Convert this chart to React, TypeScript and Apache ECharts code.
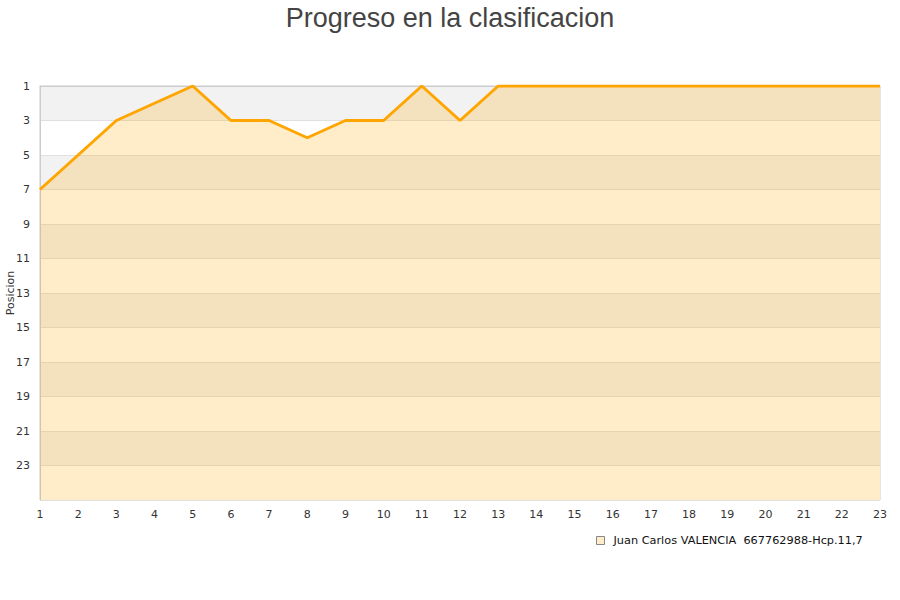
import { useEffect, useRef } from "react";
import * as echarts from "echarts";

// Jornadas 1..23 and the position held after each one
const rounds = Array.from({ length: 23 }, (_, i) => String(i + 1));
const positions = [7, 5, 3, 2, 1, 3, 3, 4, 3, 3, 1, 3, 1, 1, 1, 1, 1, 1, 1, 1, 1, 1, 1];
const playerName = "Juan Carlos VALENCIA  667762988-Hcp.11,7";

// positions start at 1, the axis counts from 0 so the ticks land on 1, 3, 5...
const FIRST = 1;
const LAST = 25;

export default function App() {
  const chartRef = useRef<HTMLDivElement>(null);

  useEffect(() => {
    if (!chartRef.current) return;
    const chart = echarts.init(chartRef.current, null, { renderer: "svg" });

    const font = "DejaVu Sans";

    const option: echarts.EChartsOption = {
      animation: false,
      textStyle: { fontFamily: font },
      title: {
        text: "Progreso en la clasificacion",
        left: "center",
        top: -1,
        textStyle: {
          fontFamily: "Liberation Sans",
          fontSize: 27,
          fontWeight: "normal",
          color: "#444",
        },
      },
      grid: {
        left: 40,
        right: 20,
        top: 86,
        bottom: 100,
        outerBoundsMode: "none",
        show: true,
        borderColor: "#ccc",
        borderWidth: 1,
        backgroundColor: "transparent",
      } as any,
      legend: {
        left: 591,
        top: 530,
        icon: "rect",
        itemWidth: 8,
        itemHeight: 8,
        itemGap: 6,
        textStyle: { fontFamily: font, fontSize: 11.3, color: "#111", padding: [0, 0, 0, 4] },
        data: [
          {
            name: playerName,
            itemStyle: { color: "#ffecc9", borderColor: "#888", borderWidth: 1 },
          },
        ],
      },
      xAxis: {
        type: "category",
        data: rounds,
        boundaryGap: false,
        axisLine: { lineStyle: { color: "#ccc" } },
        axisTick: { show: false },
        axisLabel: { color: "#333", fontSize: 11, margin: 9, fontFamily: font },
        splitLine: { show: false },
      },
      yAxis: {
        type: "value",
        inverse: true,
        min: 0,
        max: LAST - FIRST,
        interval: 2,
        name: "Posicion",
        nameLocation: "middle",
        nameGap: 24,
        nameMoveOverlap: false,
        nameTextStyle: { color: "#333", fontSize: 11, fontFamily: font },
        axisLine: { show: true, lineStyle: { color: "#ccc" } },
        axisTick: { show: false },
        axisLabel: {
          color: "#333",
          fontSize: 11,
          margin: 10,
          fontFamily: font,
          formatter: (v: number) => (v + FIRST >= LAST ? "" : String(v + FIRST)),
        },
        splitLine: { show: true, lineStyle: { color: "#e0e0e0" } },
        splitArea: { show: true, areaStyle: { color: ["#f2f2f2", "#ffffff"] } },
      } as any,
      series: [
        {
          name: playerName,
          type: "line",
          data: positions.map((p) => p - FIRST),
          showSymbol: false,
          lineStyle: { color: "#ffa500", width: 3 },
          itemStyle: { color: "#ffecc9" },
          areaStyle: { color: "#ffa500", opacity: 0.21, origin: "end" },
        },
      ],
    };

    chart.setOption(option);

    const handleResize = () => chart.resize();
    window.addEventListener("resize", handleResize);
    return () => {
      window.removeEventListener("resize", handleResize);
      chart.dispose();
    };
  }, []);

  return (
    <div
      ref={chartRef}
      style={{ position: "absolute", left: 0, top: 0, width: "900px", height: "600px" }}
    />
  );
}
